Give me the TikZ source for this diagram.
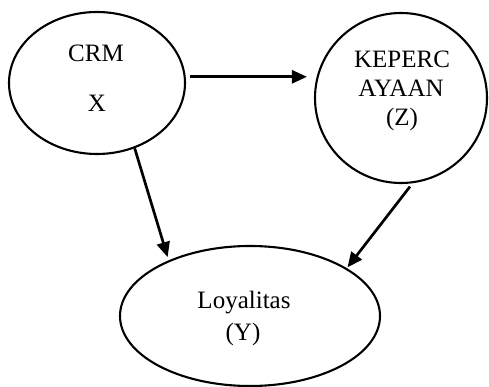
\documentclass[tikz,border=0pt]{standalone}
\usepackage{fontspec}
\setmainfont{Liberation Serif}
\usetikzlibrary{shapes.geometric,arrows.meta}
\begin{document}
\begin{tikzpicture}[x=1pt,y=-1pt,
  oval/.style={draw=black,line width=2.1pt,ellipse,inner sep=0pt},
  txt/.style={anchor=base,inner sep=0pt,font=\fontsize{25}{29}\selectfont},
  arr/.style={line width=2.7pt,-{Triangle[length=15pt,width=13pt]}}]
\useasboundingbox (0,0) rectangle (489,387);
\node[oval,minimum width=176pt,minimum height=142pt] (crm) at (97,83) {};
\node[oval,minimum width=172pt,minimum height=170pt] (z) at (401,98) {};
\node[oval,minimum width=260pt,minimum height=140pt] (y) at (250,316) {};
\node[txt] (t1) at (96,62) {CRM};
\node[txt] (t2) at (97,112) {X};
\node[txt] (t3) at (402,68) {KEPERC};
\node[txt] (t4) at (401,97) {AYAAN};
\node[txt] (t5) at (402,126) {(Z)};
\node[txt] (t6) at (244,308) {Loyalitas};
\node[txt] (t7) at (243,340) {(Y)};
\draw[arr] ([xshift=4pt]crm.4) -- ([xshift=-7pt]crm.4 -| z.west);
\draw[arr] (crm.-60) -- ([shift={(-4pt,2pt)}]y.144);
\draw[arr] ([yshift=-3pt]z.-84) -- ([xshift=2pt]y.27);
\end{tikzpicture}
\end{document}
